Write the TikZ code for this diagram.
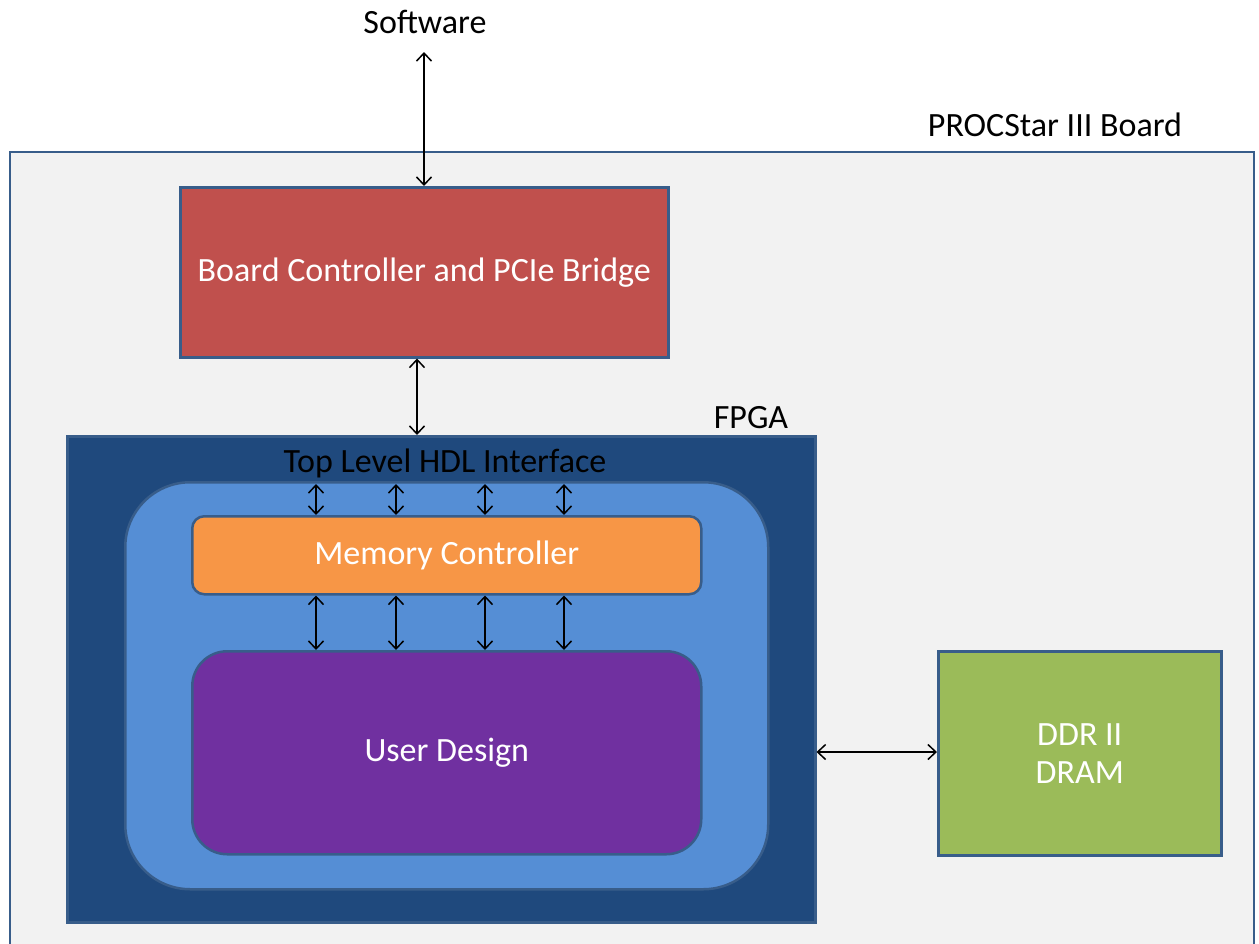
\documentclass[tikz,border=0pt]{standalone}
\usepackage{fontspec}
\setmainfont{Carlito}
\usetikzlibrary{arrows.meta}
\definecolor{boardfill}{HTML}{F2F2F2}
\definecolor{edge}{HTML}{385D8A}
\definecolor{bcfill}{HTML}{C0504D}
\definecolor{fpgafill}{HTML}{1F497D}
\definecolor{topfill}{HTML}{558ED5}
\definecolor{memfill}{HTML}{F79646}
\definecolor{userfill}{HTML}{7030A0}
\definecolor{ddrfill}{HTML}{9BBB59}
\tikzset{
  box/.style={draw=edge, line width=2.5pt, inner sep=0pt, text=white, font=\fontsize{34}{38}\selectfont, align=center},
  lbl/.style={inner sep=0pt, font=\fontsize{34}{38}\selectfont},
  link/.style={line width=1.5pt, {Straight Barb[length=8pt,width=15pt]}-{Straight Barb[length=8pt,width=15pt]}},
}
\begin{document}
\begin{tikzpicture}[x=1pt,y=-1pt]
\useasboundingbox (0,0) rectangle (1259,943);
\fill[white] (0,0) rectangle (1259,943);
% board
\draw[edge, line width=2.5pt, fill=boardfill] (10,152) rectangle (1254,946);
\node[lbl, anchor=center] (boardlbl) at (1055,125) {PROCStar III Board};
\node[lbl] (sw) at (425,22) {Software};
\coordinate (swpt) at (424,52);
% board controller
\node[box, fill=bcfill, minimum width=488pt, minimum height=170pt, anchor=north west] (bc) at (179,186) {Board Controller and PCIe Bridge};
% fpga
\node[box, fill=fpgafill, minimum width=748pt, minimum height=486pt, anchor=north west] (fpga) at (66,435) {};
\node[lbl] (fpgalbl) at (751,418) {FPGA};
% top level
\node[box, fill=topfill, rounded corners=65pt, minimum width=643pt, minimum height=407pt, anchor=north west] (top) at (124,481) {};
\node[lbl] (toplbl) at (445,463) {Top Level HDL Interface};
% memory controller
\node[box, fill=memfill, rounded corners=12pt, minimum width=509pt, minimum height=78pt, anchor=north west] (mem) at (191,515) {Memory Controller};
% user design
\node[box, fill=userfill, rounded corners=35pt, minimum width=509pt, minimum height=203pt, anchor=north west] (user) at (191,650) {User Design};
% ddr
\node[box, fill=ddrfill, minimum width=283pt, minimum height=204pt, anchor=north west] (ddr) at (937,650) {DDR II\\DRAM};
% connectors
\draw[link] (swpt) -- (bc.north -| swpt);
\draw[link] (bc.south -| 417,0) -- (fpga.north -| 417,0);
\foreach \x in {316,396,485,564}{
  \draw[link] (\x,484) -- (mem.north -| \x,0);
  \draw[link] (mem.south -| \x,0) -- (user.north -| \x,0);
}
\draw[link] (fpga.east |- 0,752) -- (ddr.west |- 0,752);
\end{tikzpicture}
\end{document}
